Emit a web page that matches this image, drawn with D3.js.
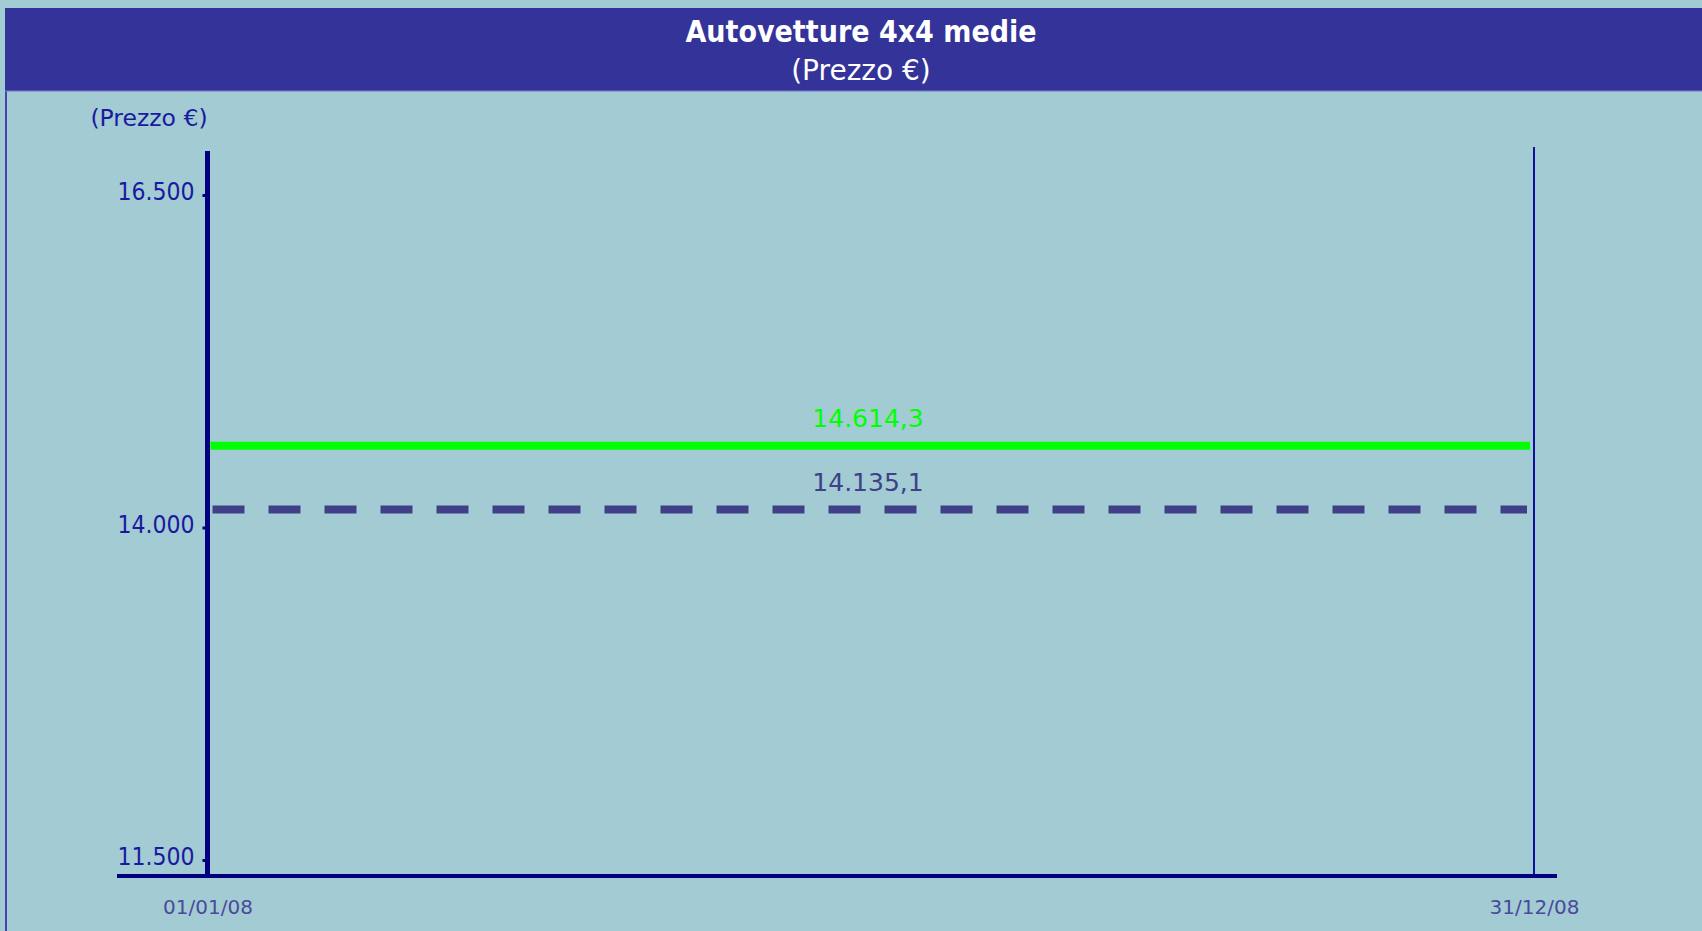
<!DOCTYPE html>
<html>
<head>
<meta charset="utf-8">
<script src="https://cdn.jsdelivr.net/npm/d3@7"></script>
<style>
  html, body { margin: 0; padding: 0; background: #a2cbd3; }
  svg { display: block; }
</style>
</head>
<body>
<svg id="chart" width="1702" height="931"></svg>
<script>
// ---- data ----
const titleLines = ["Autovetture 4x4 medie", "(Prezzo €)"];
const yAxisTitle = "(Prezzo €)";
const yTickValues = [11500, 14000, 16500];
const yTickLabels = ["11.500", "14.000", "16.500"];
const xDates = ["01/01/08", "31/12/08"];
const seriesNames = ["Prezzo medio", "Prezzo medio categoria"];
const seriesValues = [14614.3, 14135.1];
const seriesLabels = ["14.614,3", "14.135,1"];

// ---- layout ----
const W = 1702, H = 931;
const svg = d3.select("#chart");
const font = "'DejaVu Sans', sans-serif";
const fontC = "'DejaVu Sans Condensed', 'DejaVu Sans', sans-serif";

svg.append("rect").attr("width", W).attr("height", H).attr("fill", "#a2cbd3");
// panel left border
svg.append("line").attr("x1", 6).attr("x2", 6).attr("y1", 8).attr("y2", H)
  .attr("stroke", "#4545b0").attr("stroke-width", 2);
// title bar
svg.append("rect").attr("x", 5).attr("y", 8).attr("width", W - 5).attr("height", 83).attr("fill", "#343399");
svg.append("line").attr("x1", 5).attr("x2", W).attr("y1", 91).attr("y2", 91)
  .attr("stroke", "#7b7bc8").attr("stroke-width", 1);

svg.append("text").attr("x", 861).attr("y", 42).attr("text-anchor", "middle")
  .attr("fill", "#ffffff").attr("font-family", fontC).attr("font-weight", "bold")
  .attr("font-size", 30).text(titleLines[0]);
svg.append("text").attr("x", 861).attr("y", 80).attr("text-anchor", "middle")
  .attr("fill", "#ffffff").attr("font-family", font)
  .attr("font-size", 28).text(titleLines[1]);

// scales
const x = d3.scalePoint().domain(xDates).range([207.5, 1534]);
const y = d3.scaleLinear().domain([11500, 16500]).range([860, 195]);

const axisColor = "#000080";

// y axis title
svg.append("text").attr("x", 149).attr("y", 126).attr("text-anchor", "middle")
  .attr("fill", "#1a1aa0").attr("font-family", font).attr("font-size", 23.5).text(yAxisTitle);

// y axis
const yAxis = d3.axisLeft(y).tickValues(yTickValues)
  .tickFormat((d, i) => yTickLabels[i]).tickSize(5).tickPadding(8);
const gy = svg.append("g").attr("transform", `translate(${x(xDates[0])},0)`).call(yAxis);
gy.select(".domain").remove();
gy.selectAll(".tick line").attr("stroke", axisColor).attr("stroke-width", 3);
gy.selectAll(".tick text").attr("fill", "#1a1aa0").attr("font-family", fontC).attr("font-size", 24.5)
  .attr("dy", "0.2em");
gy.append("line").attr("x1", 0).attr("x2", 0).attr("y1", 151).attr("y2", 876)
  .attr("stroke", axisColor).attr("stroke-width", 5);

// right vertical line
svg.append("line").attr("x1", x(xDates[1])).attr("x2", x(xDates[1]))
  .attr("y1", 147).attr("y2", 876).attr("stroke", "#1010a0").attr("stroke-width", 2);

// x axis
const xAxis = d3.axisBottom(x).tickSize(0).tickPadding(24);
const gx = svg.append("g").attr("transform", "translate(0,876)").call(xAxis);
gx.select(".domain").remove();
gx.selectAll(".tick text").attr("fill", "#4a4a9a").attr("font-family", font).attr("font-size", 20);
gx.append("line").attr("x1", 117).attr("x2", 1557).attr("y1", 0).attr("y2", 0)
  .attr("stroke", axisColor).attr("stroke-width", 4);

// series lines
const seriesColors = ["#00ff00", "#404088"];
const x0 = x(xDates[0]) + 3, x1 = x(xDates[1]) - 4;
seriesValues.forEach((v, i) => {
  const line = svg.append("line")
    .attr("x1", i === 0 ? x0 : x0 + 2).attr("x2", i === 0 ? x1 : x1 - 3)
    .attr("y1", y(v)).attr("y2", y(v))
    .attr("stroke", seriesColors[i]).attr("stroke-width", 8);
  if (i === 1) line.attr("stroke-dasharray", "32,24");
  svg.append("text").attr("x", 868).attr("y", y(v) - 19).attr("text-anchor", "middle")
    .attr("fill", seriesColors[i]).attr("font-family", font).attr("font-size", 25)
    .text(seriesLabels[i]);
});
</script>
</body>
</html>
